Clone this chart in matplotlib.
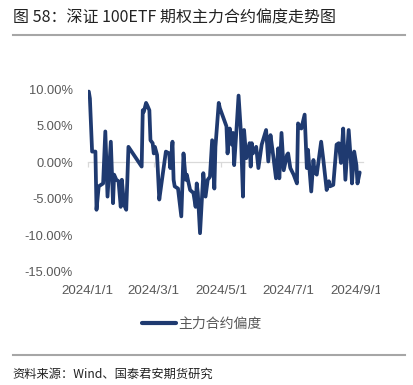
import matplotlib
matplotlib.use('Agg')
import matplotlib.pyplot as plt
import pandas as pd
from matplotlib.lines import Line2D
from matplotlib.transforms import Bbox, TransformedBbox

plt.rcParams['font.family'] = ['Noto Sans CJK SC', 'DejaVu Sans']

# ---------------- data ----------------
dates = [
    '2024-01-02', '2024-01-03', '2024-01-05', '2024-01-08', '2024-01-09', '2024-01-11',
    '2024-01-15', '2024-01-17', '2024-01-19', '2024-01-22', '2024-01-24', '2024-01-25',
    '2024-01-27', '2024-01-29', '2024-01-31', '2024-02-01', '2024-02-03', '2024-02-05',
    '2024-02-06', '2024-02-07',
    '2024-02-19', '2024-02-20', '2024-02-21', '2024-02-23', '2024-02-24', '2024-02-26',
    '2024-02-27', '2024-02-29',
    '2024-03-01', '2024-03-02', '2024-03-04', '2024-03-06', '2024-03-08', '2024-03-12',
    '2024-03-15', '2024-03-16', '2024-03-18', '2024-03-19', '2024-03-20', '2024-03-23',
    '2024-03-26', '2024-03-28', '2024-03-30', '2024-03-31',
    '2024-04-01', '2024-04-03', '2024-04-06', '2024-04-08', '2024-04-09', '2024-04-10',
    '2024-04-12', '2024-04-15', '2024-04-17', '2024-04-19', '2024-04-21', '2024-04-23',
    '2024-04-25', '2024-04-26', '2024-04-29', '2024-04-30',
    '2024-05-06', '2024-05-07', '2024-05-09', '2024-05-11', '2024-05-12', '2024-05-13',
    '2024-05-15', '2024-05-17', '2024-05-19', '2024-05-21', '2024-05-22', '2024-05-24',
    '2024-05-27', '2024-05-28', '2024-05-29', '2024-05-30',
    '2024-06-02', '2024-06-04', '2024-06-07', '2024-06-11', '2024-06-13', '2024-06-15',
    '2024-06-17', '2024-06-20', '2024-06-22', '2024-06-23', '2024-06-25', '2024-06-27',
    '2024-06-30',
    '2024-07-01', '2024-07-03', '2024-07-06', '2024-07-09', '2024-07-10', '2024-07-13',
    '2024-07-16', '2024-07-18', '2024-07-19', '2024-07-22', '2024-07-24', '2024-07-25',
    '2024-07-27', '2024-07-31',
    '2024-08-02', '2024-08-05', '2024-08-07', '2024-08-08', '2024-08-11', '2024-08-14',
    '2024-08-16', '2024-08-18', '2024-08-20', '2024-08-22', '2024-08-25', '2024-08-27',
    '2024-08-28', '2024-08-30',
    '2024-09-01', '2024-09-02', '2024-09-04',
]
skew = [
    9.65, 8.7, 1.45, 1.45, -6.5, -3.3,
    -2.9, 4.2, -4.7, 2.8, -5.6, -1.7,
    -2.4, -2.6, -6.1, -2.4, -5.8, -6.5,
    -2.4, 2.1,
    -0.6, 7.1, 6.9, 8.1, 7.8, 7.1,
    3.0, 2.6,
    1.2, 2.1, 1.0, -5.1, -2.9, 1.45,
    1.2, -0.8, 2.8, -2.4, -3.3, -3.6,
    -7.4, 1.2, -2.4, -1.7,
    -2.4, -3.8, -4.2, -6.1, -2.9, -4.2,
    -9.7, -1.5, -4.7, -2.4, -2.0, 3.0,
    -3.6, 2.1, 8.1, 7.4,
    4.9, 1.2, 4.6, 2.4, 4.0, -0.4,
    4.2, 9.1, 4.4, -4.7, 4.4, 0.55,
    2.6, -0.6, 2.6, 1.2,
    2.1, -0.8, 2.4, 4.4, 0.1, 3.7,
    1.45, -2.2, 1.9, -2.2, 4.0, -1.1,
    1.0,
    1.2, -0.8, -1.7, -2.9, 5.3, 4.6,
    6.5, -0.8, 1.7, -4.0, 0.3, -1.3,
    -1.7, 2.8,
    0.3, -3.8, -2.6, -3.3, -3.1, 2.4,
    2.6, -0.1, 4.6, -2.4, 4.4, 0.1,
    -2.9, 1.45,
    -0.4, -2.9, -1.4,
]
series_name = '主力合约偏度'
yticks = [-15, -10, -5, 0, 5, 10]
xtick_dates = ['2024-01-01', '2024-03-01', '2024-05-01', '2024-07-01', '2024-09-01']
xtick_labels = ['2024/1/1', '2024/3/1', '2024/5/1', '2024/7/1', '2024/9/1']
title = '图 58：深证 100ETF 期权主力合约偏度走势图'
source = '资料来源：Wind、国泰君安期货研究'

# ---------------- figure ----------------
W, H = 413, 385
fig = plt.figure(figsize=(W / 100, H / 100), dpi=100)
fig.patch.set_facecolor('white')

navy = '#1f3a70'
grey_txt = '#595959'
cjk = ['Noto Sans CJK SC', 'DejaVu Sans']
latin = ['Liberation Sans', 'DejaVu Sans']

ax = fig.add_axes([87.7 / W, (H - 272) / H, (363 - 87.7) / W, (272 - 89) / H])
x = pd.to_datetime(dates)
ax.plot(x, skew, color=navy, lw=2.7, solid_joinstyle='round', solid_capstyle='round',
        label=series_name, zorder=3)
ax.set_ylim(-15, 10)
ax.set_xlim(pd.Timestamp('2024-01-01'), pd.Timestamp('2024-09-07'))

for s in ['top', 'right', 'left']:
    ax.spines[s].set_visible(False)
ax.spines['bottom'].set_position(('data', 0))
ax.spines['bottom'].set_color('#d9d9d9')
ax.spines['bottom'].set_linewidth(0.9)
ax.spines['bottom'].set_zorder(1)

ax.set_yticks(yticks)
ax.set_yticklabels([f'{v:.2f}%' for v in yticks], family=latin)
ax.tick_params(axis='y', length=0, pad=10.5, labelsize=9.3, labelcolor=grey_txt)

xt = pd.to_datetime(xtick_dates)
ax.set_xticks(xt)
ax.tick_params(axis='x', direction='out', length=3.5, width=0.9, color='#d9d9d9',
               labelbottom=False)

sec = ax.secondary_xaxis('bottom')
sec.set_xticks(xt)
sec.set_xticklabels(xtick_labels, family=latin)
sec.tick_params(axis='x', length=0, pad=9, labelsize=9.6, labelcolor=grey_txt)
for s in sec.spines.values():
    s.set_visible(False)

leg = fig.legend(loc='center', bbox_to_anchor=(202 / W, 1 - 324 / H), frameon=False,
                 handlelength=2.4, handletextpad=0.2,
                 prop={'family': cjk, 'size': 10})
for t in leg.get_texts():
    t.set_color(grey_txt)
for l in leg.get_lines():
    l.set_linewidth(3.0)

fig.text(12.7 / W, 1 - 17.5 / H, title, fontsize=11.5, ha='left', va='center',
         color='#222222', family=cjk)
fig.add_artist(Line2D([12.7 / W, 405 / W], [1 - 35 / H, 1 - 35 / H],
                      color='#a6a6a6', lw=1.5, transform=fig.transFigure))
fig.add_artist(Line2D([12.7 / W, 405 / W], [1 - 355 / H, 1 - 355 / H],
                      color='#a6a6a6', lw=1.5, transform=fig.transFigure))
fig.text(12.7 / W, 1 - 374 / H, source, fontsize=8.8, ha='left', va='center',
         color='#222222', family=cjk)

# the last date label is cut off at the chart canvas edge in the reference
fig.canvas.draw()
clip = TransformedBbox(Bbox([[0, 0], [380 / W, 1]]), fig.transFigure)
for tick in sec.xaxis.get_major_ticks():
    tick.label1.set_clip_box(clip)
    tick.label1.set_clip_on(True)

fig.savefig('out.png', dpi=100)
